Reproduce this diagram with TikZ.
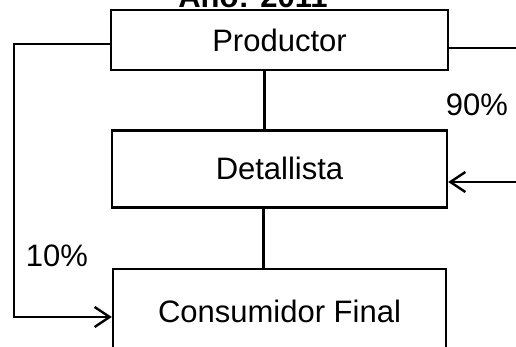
\documentclass[tikz,border=0pt]{standalone}
\usepackage{fontspec}
\setmainfont{Liberation Sans}
\usetikzlibrary{arrows.meta,positioning}

\begin{document}
\begin{tikzpicture}[
    x = 1pt, y = 1pt,
    > = {Straight Barb[length=15pt,width=20pt]}, % open arrow head
    font = \fontsize{31}{37}\selectfont
    ]

    \tikzset{box/.style={
    draw = black,
    line width = 2.4pt,
    fill = white,
    inner sep = 0pt
    },
    wire/.style={line width = 2.4pt}}
    \useasboundingbox (0,0) rectangle (516,-347);

    \node[anchor=base,font=\fontsize{31}{37}\selectfont\bfseries] (title) at (253,-8) {Año: 2011};
    \node[box,minimum width=337pt,minimum height=60pt] (prod) at (279.5,-40) {Productor};
    \node[box,minimum width=335pt,minimum height=77pt] (det) [below=58pt of prod] {Detallista};
    \node[box,minimum width=333pt,minimum height=86pt] (cons) [below=59pt of det] {Consumidor Final};

    \node (p90) at (477,-105) {90\%};
    \node (p10) at (57,-256) {10\%};

    \coordinate (lc) at (14,-317);
    \coordinate (rc) at (530,-182);

    \path[wire] ([xshift=-15pt]prod.south) edge ([xshift=-15pt]det.north);
    \path[wire] ([xshift=-16pt]det.south) edge ([xshift=-16pt]cons.north);
    \draw[wire,->] ([yshift=-4pt]prod.west) -| (lc) -- (cons.west |- lc);
    \draw[wire,->] ([yshift=-8pt]prod.east) -| (rc) -- (det.east |- rc);
\end{tikzpicture}
\end{document}
